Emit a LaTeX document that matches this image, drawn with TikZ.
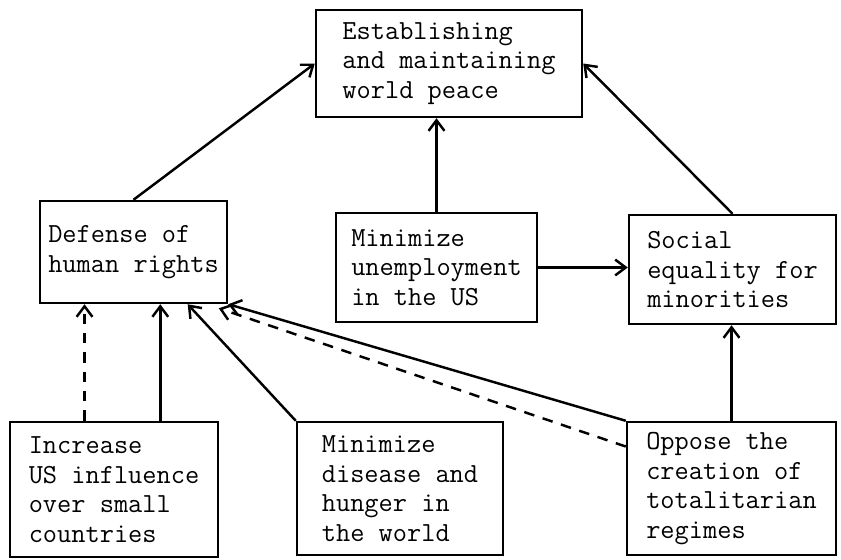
\documentclass[tikz,border=0pt]{standalone}
\usepackage{fontspec}
\usetikzlibrary{calc,arrows.meta}

\begin{document}
\begin{tikzpicture}[x=0.02cm, y=-0.02cm, line width=1.4pt,
  goal/.style={draw, align=left, inner sep=0pt,
    font=\ttfamily\fontsize{15.7}{16.9}\selectfont},
  tip/.style={-{Straight Barb[length=6pt,width=9pt,line width=1.4pt]}}]
\useasboundingbox (0,0) rectangle (841,559);
\node[goal, minimum width=266*0.02cm, minimum height=107*0.02cm] (peace) at (449,63.5)
  {Establishing\\and maintaining\\world peace};
\node[goal, minimum width=187*0.02cm, minimum height=102*0.02cm] (rights) at (133.5,252)
  {Defense of\\human rights};
\node[goal, minimum width=201*0.02cm, minimum height=109*0.02cm] (unemp) at (436.5,267.5)
  {Minimize\\unemployment\\in the US};
\node[goal, minimum width=207*0.02cm, minimum height=109*0.02cm] (equal) at (732.5,269.5)
  {Social\\equality for\\minorities};
\node[goal, minimum width=208*0.02cm, minimum height=135*0.02cm] (influence) at (114,489.5)
  {Increase\\US influence\\over small\\countries};
\node[goal, minimum width=206*0.02cm, minimum height=133*0.02cm] (disease) at (400,488.5)
  {Minimize\\disease and\\hunger in\\the world};
\node[goal, minimum width=209*0.02cm, minimum height=133*0.02cm] (oppose) at (731.5,488.5)
  {Oppose the\\creation of\\totalitarian\\regimes};
% upper level
\draw[tip] (rights.north) -- (peace.west);
\draw[tip] (unemp.north) -- (unemp.north |- peace.south);
\draw[tip] (equal.north) -- (peace.east);
\draw[tip] (unemp.east) -- (unemp.east -| equal.west);
\draw[tip] (oppose.north) -- (oppose.north |- equal.south);
% into human rights
\coordinate (i1) at ($(influence.north west)!0.36!(influence.north east)$);
\coordinate (i2) at ($(influence.north west)!0.72!(influence.north east)$);
\coordinate (r3) at ($(rights.south west)!0.786!(rights.south east)$);
\coordinate (r5) at ($(rights.south west)!0.95!(rights.south east)+(0,4)$);
\coordinate (o5) at ($(oppose.north west)!0.19!(oppose.south west)$);
\draw[tip, dashed, dash pattern=on 6pt off 5pt] (i1) -- (i1 |- rights.south);
\draw[tip] (i2) -- (i2 |- rights.south);
\draw[tip] (disease.north west) -- (r3);
\draw[tip] (oppose.north west) -- (rights.south east);
\draw[tip, dashed, dash pattern=on 6pt off 5pt] (o5) -- (r5);
\end{tikzpicture}
\end{document}
